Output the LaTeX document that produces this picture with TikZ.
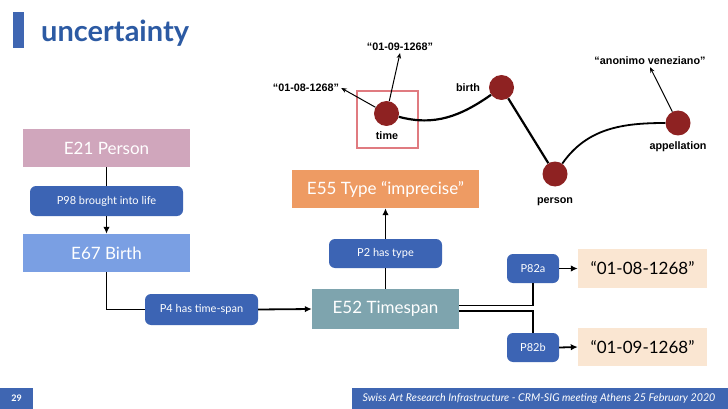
\documentclass[tikz,border=0pt]{standalone}
\usepackage{fontspec}
\setmainfont{Lato}
\newfontfamily\graphfont{Liberation Sans}
\usetikzlibrary{arrows.meta}

\definecolor{titleblue}{HTML}{2C5AA3}
\definecolor{barblue}{HTML}{3F66B2}
\definecolor{propblue}{HTML}{3C64B4}
\definecolor{personpink}{HTML}{D0A6BC}
\definecolor{birthblue}{HTML}{7A9FE3}
\definecolor{spanteal}{HTML}{7EA4AE}
\definecolor{typeorange}{HTML}{EE9B63}
\definecolor{valuepeach}{HTML}{FAE6D2}
\definecolor{dotred}{HTML}{8E2222}
\definecolor{framered}{HTML}{E07B80}

\tikzset{
  entity/.style={rectangle, minimum width=#1, minimum height=38pt, inner sep=0pt,
    text=white, font=\fontsize{17}{17}\selectfont},
  prop/.style={rectangle, rounded corners=6pt, fill=propblue, minimum height=30pt,
    minimum width=#1, inner sep=0pt, text=white, font=\fontsize{11}{11}\selectfont},
  value/.style={rectangle, fill=valuepeach, minimum width=129pt, minimum height=38pt,
    inner sep=0pt, font=\fontsize{17}{17}\selectfont},
  link/.style={line width=1.8pt},
  arrowlink/.style={line width=1.8pt, -{Latex[length=7pt,width=6.5pt]}},
  dot/.style={circle, fill=dotred, minimum size=25pt, inner sep=0pt},
  glabel/.style={font=\graphfont\bfseries\fontsize{10.8}{10.8}\selectfont, inner sep=2pt},
  gedge/.style={line width=2.2pt},
  garrow/.style={line width=1pt, -{Stealth[length=5.5pt,width=4.5pt]}},
}

\begin{document}
\begin{tikzpicture}[x=1pt, y=-1pt]
\useasboundingbox (0,0) rectangle (728,409);
\fill[white] (0,0) rectangle (728,409);

% heading
\fill[barblue] (13,12) rectangle (24,48);
\node[anchor=base west, inner sep=0pt, text=titleblue,
  font=\bfseries\fontsize{29}{29}\selectfont] (title) at (41,42) {uncertainty};

% entity / property chain
\node[entity=167pt, fill=personpink] (person) at (106.5,148) {E21 Person};
\node[prop=153pt] (p98) at (106.5,201) {P98 brought into life};
\node[entity=167pt, fill=birthblue] (birth) at (106.5,253) {E67 Birth};
\node[prop=113pt, minimum height=31pt] (p4) at (201.5,309.5) {P4 has time-span};
\node[entity=147pt, minimum height=40pt, fill=spanteal] (span) at (385.5,309) {E52 Timespan};
\node[prop=113pt, minimum height=29pt] (p2) at (385.5,253.5) {P2 has type};
\node[entity=187pt, fill=typeorange] (type) at (385.5,189) {E55 Type “imprecise”};
\node[prop=52pt, minimum height=29pt] (p82a) at (533,268.5) {P82a};
\node[value, minimum height=39pt] (v1) at (642.5,268.5) {“01-08-1268”};
\node[prop=52pt, minimum height=29pt] (p82b) at (533,347.5) {P82b};
\node[value] (v2) at (642.5,347) {“01-09-1268”};

\draw[link] (person.south) -- (p98.north);
\draw[arrowlink] (p98.south) -- (birth.north);
\draw[link] (birth.south) |- (p4.west);
\draw[arrowlink] (p4.east) -- (span.west);
\draw[link] (span.north) -- (p2.south);
\draw[arrowlink] (p2.north) -- (type.south);
\draw[link] ([yshift=3.5pt]span.east) -| (p82a.south);
\draw[link] ([yshift=-2pt]span.east) -| (p82b.north);
\draw[arrowlink] (p82a.east) -- (v1.west);
\draw[arrowlink] (p82b.east) -- (v2.west);

% graph sketch
\draw[framered, line width=2pt] (357,91) rectangle (418,148);
\node[dot] (gtime) at (386.5,113.5) {};
\node[dot] (gbirth) at (501.5,87.5) {};
\node[dot] (gperson) at (555,174) {};
\node[dot] (gapp) at (678,123) {};

\node[glabel] at (387,136) {time};
\node[glabel] at (468,88) {birth};
\node[glabel] at (555,202) {person};
\node[glabel] at (678,147) {appellation};
\node[glabel] (lv1) at (306,88) {“01-08-1268”};
\node[glabel] (lv2) at (400,47) {“01-09-1268”};
\node[glabel] (lname) at (650,61) {“anonimo veneziano”};

\draw[gedge] (gtime) to[out=-15, in=215] (gbirth);
\draw[gedge] (gbirth) -- (gperson);
\draw[gedge, line width=1.8pt] (gperson) to[out=55, in=180] (gapp);
\draw[garrow] (gtime) -- (lv1.east);
\draw[garrow] (gtime) -- (lv2.south);
\draw[garrow] (gapp) -- (lname.south);

% footer
\fill[barblue] (0,388) rectangle (33,409);
\node[text=white, font=\bfseries\fontsize{9}{9}\selectfont] (page) at (16.5,398.5) {29};
\fill[barblue] (352,388) rectangle (728,409);
\node[text=white, font=\itshape\fontsize{10.7}{10.7}\selectfont] (foot) at (539,398.5)
  {Swiss Art Research Infrastructure - CRM-SIG meeting Athens 25 February 2020};
\end{tikzpicture}
\end{document}
